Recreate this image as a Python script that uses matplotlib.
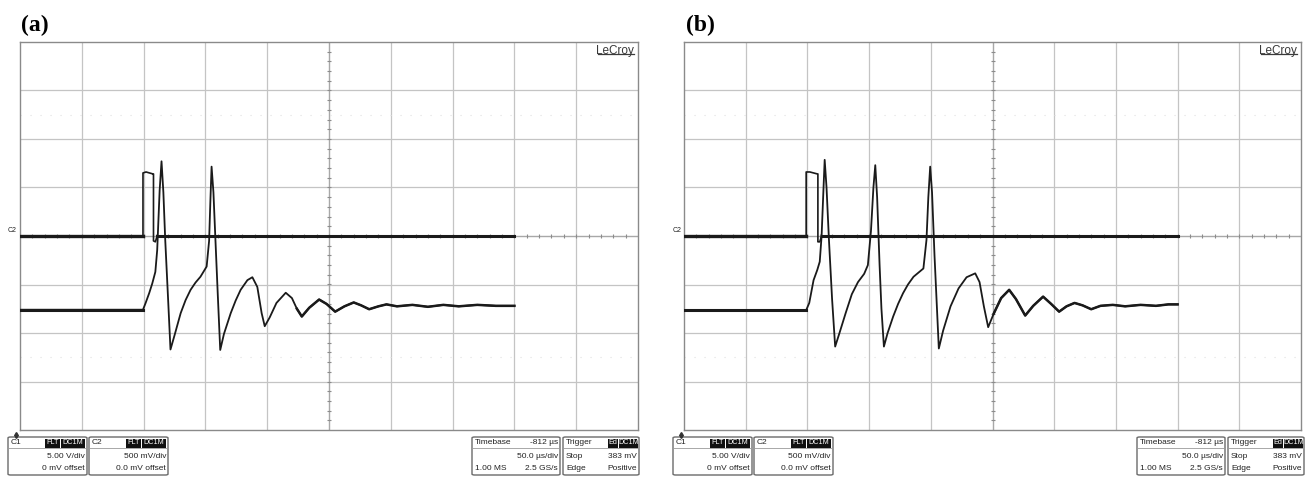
import matplotlib
matplotlib.use("Agg")
import matplotlib.pyplot as plt
from matplotlib.patches import Rectangle, FancyBboxPatch

W, H = 1309, 478

# time base 50 us/div, C1 5 V/div, C2 500 mV/div
V_PER_DIV = 5.0
MV_PER_DIV = 500.0

# ---- panel (a) ----
c1_t_a = [0, 99.5, 99.5, 102, 107.5, 108, 108, 109.5, 111, 400]
c1_v_a = [0, 0, 6.5, 6.6, 6.4, 6.4, -0.5, -0.6, 0, 0]

c2_t_a = [0, 99.5, 101.5, 104.5, 107, 109.5, 111, 113, 114.5, 116, 117.5,
          120, 121.75, 125, 130, 134, 138, 142, 146, 151, 153, 154, 155,
          156.5, 158, 160, 162, 165, 170.5, 174.5, 178.5, 184, 188, 192,
          195.5, 198, 202, 207.5, 215, 220, 224, 228, 234, 242, 248, 255,
          262.5, 270, 276, 282.5, 290, 296.5, 305, 317.5, 330, 342.5, 355,
          370, 385, 400]
c2_mv_a = [-760, -760, -695, -590, -490, -370, -145, 475, 770, 450, -40,
           -700, -1170, -1025, -795, -660, -555, -480, -420, -315, -50, 350,
           715, 450, -5, -600, -1175, -1010, -795, -665, -555, -455, -425,
           -525, -795, -930, -840, -690, -585, -640, -750, -830, -740, -655,
           -700, -780, -725, -685, -715, -755, -725, -705, -725, -710, -730,
           -710, -725, -710, -720, -720]

# ---- panel (b) ----
c1_t_b = [0, 99, 99, 102, 108, 108.5, 108.5, 110, 111.5, 400]
c1_v_b = [0, 0, 6.6, 6.6, 6.4, 6.4, -0.6, -0.6, 0, 0]

c2_t_b = [0, 99, 101.5, 105, 108, 110, 111.5, 113, 114, 115.5, 117.5, 120,
          122.5, 126, 131, 136, 141, 146, 149, 151.5, 153.5, 155, 156.5,
          158.5, 160, 162, 165, 169.5, 173.5, 177.5, 181.5, 186, 194, 196.5,
          198, 199.5, 201, 203, 205, 206.5, 210, 216, 222.5, 229, 236, 239.5,
          243, 246.5, 251, 257, 263.5, 269, 276.5, 283, 291, 297.5, 304, 310,
          316.5, 323, 330, 337.5, 347.5, 357.5, 370, 382.5, 392.5, 400]
c2_mv_b = [-765, -765, -690, -455, -350, -265, 0, 475, 785, 500, -50, -650,
           -1140, -1000, -795, -600, -475, -390, -300, 50, 500, 730, 400,
           -300, -750, -1140, -1000, -830, -700, -590, -500, -420, -335, -40,
           400, 715, 450, -200, -750, -1160, -975, -725, -540, -425, -385,
           -475, -725, -940, -800, -640, -555, -650, -820, -720, -625, -700,
           -780, -725, -690, -715, -755, -720, -710, -725, -710, -720, -705,
           -705]

labels = ["(a)", "(b)"]
ch_info = [("C1", "5.00 V/div", "0 mV offset"),
           ("C2", "500 mV/div", "0.0 mV offset")]
tb_info = ("Timebase", "-812 \u00b5s", "50.0 \u00b5s/div", "1.00 MS", "2.5 GS/s")
trig_info = ("Trigger", "Stop", "383 mV", "Edge", "Positive")

NARROW = ["Liberation Sans Narrow", "Liberation Sans", "DejaVu Sans"]
GRID = "#c4c4c4"
INK = "#1a1a1a"


def fx(px):
    return px / W


def fy(py):
    return 1 - py / H


def draw_screen(ax, c1_t, c1_v, c2_t, c2_mv):
    ax.set_xlim(0, 500)
    ax.set_ylim(-4, 4)
    ax.set_xticks([])
    ax.set_yticks([])
    for s in ax.spines.values():
        s.set_color("#8a8a8a")
        s.set_linewidth(1.0)
    for i in range(1, 10):
        ax.axvline(i * 50, color=GRID, lw=0.9, zorder=1)
    for j in range(-3, 4):
        ax.axhline(j, color=GRID, lw=0.9, zorder=1)
    ax.axvline(250, color="#a8a8a8", lw=0.9, zorder=1)
    ax.axhline(0, color="#a8a8a8", lw=0.9, zorder=1)
    # faint dotted rows
    for j in (-2.5, 2.5):
        ax.axhline(j, color="#e0e0e0", lw=0.8, ls=(0, (1, 8)), zorder=1)
    # center cross ticks
    ax.plot([250] * 39, [k * 0.2 - 3.8 for k in range(39)], ls="none",
            marker="_", ms=3, color="#8c8c8c", mew=0.8, zorder=1)
    ax.plot([k * 10 for k in range(1, 50)], [0] * 49, ls="none",
            marker="|", ms=3, color="#8c8c8c", mew=0.8, zorder=1)
    c1 = [v / V_PER_DIV for v in c1_v]
    c2 = [v / MV_PER_DIV for v in c2_mv]
    ax.plot(c1_t, c1, color=INK, lw=1.2, zorder=3)
    ax.plot(c2_t, c2, color=INK, lw=1.3, zorder=3)
    # noisy flat parts drawn heavier
    ax.plot([0, c1_t[1]], [c1[0], c1[1]], color=INK, lw=2.4, zorder=3)
    ax.plot([c1_t[-2], c1_t[-1]], [c1[-2], c1[-1]], color=INK, lw=2.2,
            zorder=3)
    ax.plot([0, c2_t[1]], [c2[0], c2[1]], color=INK, lw=2.2, zorder=3)
    ax.plot(c2_t[-20:], c2[-20:], color=INK, lw=1.8, zorder=3)
    ax.text(0.994, 0.993, "LeCroy", transform=ax.transAxes, ha="right",
            va="top", fontsize=8.5, color="#3a3a3a", family=NARROW)
    ax.plot([0.935, 0.994], [0.968, 0.968], transform=ax.transAxes,
            color="#3a3a3a", lw=0.9)


def box(x0, y0, w, h):
    fig.patches.append(FancyBboxPatch(
        (fx(x0), fy(y0 + h)), fx(w), h / H, transform=fig.transFigure,
        boxstyle="round,pad=0,rounding_size=0.002", fc="white",
        ec="#6a6a6a", lw=1.0))
    fig.lines.append(plt.Line2D([fx(x0), fx(x0 + w)],
                                [fy(y0 + 11), fy(y0 + 11)],
                                transform=fig.transFigure, color="#9a9a9a",
                                lw=0.6))


def txt(x, y, s, ha="left", color="#222222", size=6.0):
    fig.text(fx(x), fy(y), s, ha=ha, va="center", fontsize=size,
             color=color, family=NARROW)


def badge(x, y, w, s):
    fig.patches.append(Rectangle((fx(x), fy(y + 4.5)), fx(w), 9 / H,
                                 transform=fig.transFigure, fc="#111111",
                                 ec="none"))
    txt(x + w / 2, y, s, ha="center", color="white", size=5.2)


def draw_panel_info(off, label):
    fig.text(fx(off + 21), fy(25), label, ha="left", va="center",
             fontsize=17, fontweight="bold", family="Liberation Serif")
    txt(off + 8, 231, "C2", size=5)
    fig.lines.append(plt.Line2D([fx(off + 16)], [fy(435)], marker="d",
                                ms=3, color="#333333",
                                transform=fig.transFigure))
    # channel boxes
    for k, (ch, vdiv, offs) in enumerate(ch_info):
        x0 = off + 8 + k * 81
        box(x0, 437, 79, 38)
        txt(x0 + 3, 443, ch)
        badge(x0 + 37, 443, 15, "FLT")
        badge(x0 + 53, 443, 24, "DC1M")
        txt(x0 + 77, 456, vdiv, ha="right")
        txt(x0 + 77, 468, offs, ha="right")
    x0 = off + 472
    box(x0, 437, 88, 38)
    txt(x0 + 3, 443, tb_info[0])
    txt(x0 + 86, 443, tb_info[1], ha="right")
    txt(x0 + 86, 456, tb_info[2], ha="right")
    txt(x0 + 3, 468, tb_info[3])
    txt(x0 + 86, 468, tb_info[4], ha="right")
    x0 = off + 563
    box(x0, 437, 76, 38)
    txt(x0 + 3, 443, trig_info[0])
    badge(x0 + 45, 443, 10, "Ed")
    badge(x0 + 56, 443, 19, "DC1M")
    txt(x0 + 3, 456, trig_info[1])
    txt(x0 + 74, 456, trig_info[2], ha="right")
    txt(x0 + 3, 468, trig_info[3])
    txt(x0 + 74, 468, trig_info[4], ha="right")


fig = plt.figure(figsize=(W / 100, H / 100), dpi=100)
ax_a = fig.add_axes([fx(20), fy(430), fx(618), 388 / H])
ax_b = fig.add_axes([fx(684), fy(430), fx(617), 388 / H])

draw_screen(ax_a, c1_t_a, c1_v_a, c2_t_a, c2_mv_a)
draw_screen(ax_b, c1_t_b, c1_v_b, c2_t_b, c2_mv_b)
draw_panel_info(0, labels[0])
draw_panel_info(665, labels[1])

fig.savefig("out.png", dpi=100)
